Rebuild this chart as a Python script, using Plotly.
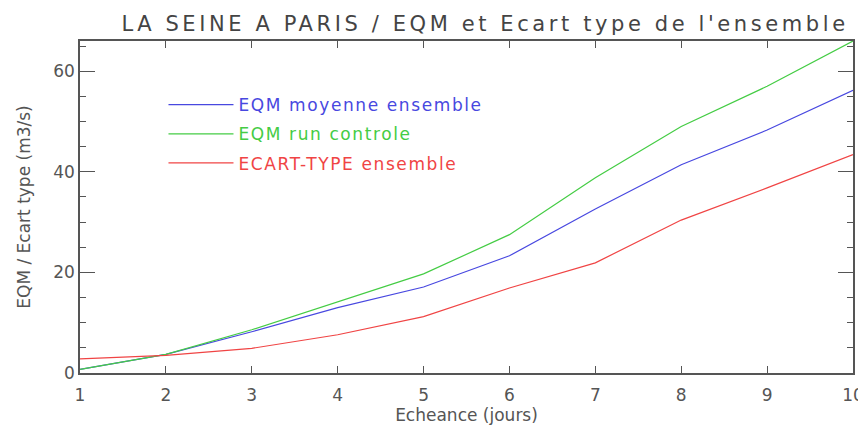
import plotly.graph_objects as go

echeance = [1, 2, 3, 4, 5, 6, 7, 8, 9, 10]
eqm_moyenne = [0.7, 3.7, 8.2, 13.0, 17.1, 23.3, 32.6, 41.4, 48.3, 56.2]
eqm_controle = [0.7, 3.7, 8.6, 14.2, 19.7, 27.5, 38.8, 49.0, 57.0, 66.0]
ecart_type = [2.8, 3.5, 4.9, 7.6, 11.2, 16.9, 21.9, 30.4, 36.8, 43.4]

series = [
    ("EQM moyenne ensemble", eqm_moyenne, "#4848e0"),
    ("EQM run controle", eqm_controle, "#44cc44"),
    ("ECART-TYPE ensemble", ecart_type, "#f04444"),
]

fig = go.Figure()
for i, (name, vals, col) in enumerate(series):
    fig.add_trace(go.Scatter(
        x=echeance, y=vals, mode="lines",
        line=dict(color=col, width=1.2),
        legendgroup=f"g{i}",
        name=f'<span style="color:{col};letter-spacing:1.6px">{name}</span>',
    ))

axis_font = dict(family="DejaVu Sans", size=17, color="#555")

# the page body has an 8px margin, so the figure is a bit smaller than the window
fig.update_layout(
    width=858, height=422,
    margin=dict(l=72, r=13, t=33, b=57),
    paper_bgcolor="white", plot_bgcolor="white",
    title=dict(text='<span style="letter-spacing:3.6px">LA SEINE A PARIS / EQM et Ecart type de l\'ensemble</span>',
               x=0.556, xanchor="center", y=0.962, yanchor="middle",
               font=dict(family="DejaVu Sans", size=21, color="#444")),
    legend=dict(x=0.108, y=0.861, xanchor="left", yanchor="top",
                font=dict(family="DejaVu Sans", size=17),
                bgcolor="rgba(0,0,0,0)", tracegroupgap=4, itemwidth=65),
    showlegend=True,
)

fig.update_xaxes(
    range=[1, 10], tickvals=echeance, ticks="inside", ticklen=7,
    tickcolor="#555", showline=True, linecolor="#555", linewidth=1.5,
    mirror="ticks", showgrid=False, zeroline=False, tickfont=axis_font,
    automargin=False, ticklabelstandoff=6,
    title=dict(text="Echeance (jours)", font=axis_font, standoff=0),
)
fig.update_yaxes(
    range=[0, 66], tickvals=[0, 20, 40, 60], ticks="inside", ticklen=15,
    tickcolor="#555", showline=True, linecolor="#555", linewidth=1.5,
    mirror="ticks", showgrid=False, zeroline=False, tickfont=axis_font,
    automargin=False,
    minor=dict(dtick=5, ticks="inside", ticklen=6, tickcolor="#555", showgrid=False),
    title=dict(text="EQM / Ecart type (m3/s)", font=axis_font, standoff=18),
)

fig.write_html("out.html")
